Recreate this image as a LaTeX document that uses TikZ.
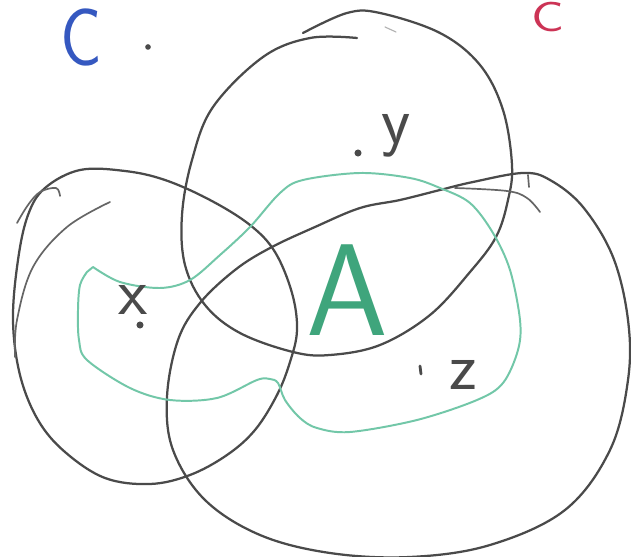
\documentclass[tikz,border=0pt]{standalone}
\usepackage{tikz}
\usetikzlibrary{positioning}
\definecolor{pencil}{HTML}{4A4A4A}
\definecolor{mint}{HTML}{72C7A8}
\definecolor{jade}{HTML}{3FA57C}
\definecolor{inkblue}{HTML}{3558C0}
\definecolor{inkred}{HTML}{CC3355}

\begin{document}
\begin{tikzpicture}[
  x=0.025cm, y=-0.025cm,
  setline/.style={draw=pencil, line width=1.6pt, line cap=round, line join=round},
  extra/.style={draw=pencil!85, line width=1.2pt, line cap=round},
  aline/.style={draw=mint, line width=1.4pt, line cap=round, line join=round},
  lab/.style={text=pencil, inner sep=0pt, font=\sffamily\fontsize{48}{48}\selectfont},
  elem/.style={circle, fill=pencil, inner sep=0pt, minimum size=5pt}
]
\clip (0,0) rectangle (631,557);
\fill[white] (0,0) rectangle (631,557);

% set X
\draw[setline] plot[smooth cycle, tension=0.6] coordinates {(80,170) (125,171) (165,180) (210,200) (250,225) (275,252) (292,293) (297,330) (290,362) (277,395) (255,430) (227,455) (190,475) (150,484) (105,478) (65,452) (38,420) (20,375) (13,320) (18,260) (28,215) (45,188)};
\draw[extra] plot[smooth, tension=0.6] coordinates {(17,223) (28,205) (40,192) (56,188) (60,196)};
\draw[extra] plot[smooth, tension=0.6] coordinates {(110,202) (67,227) (33,267) (17,320) (15,357)};

% set Y
\draw[setline] plot[smooth, tension=0.6] coordinates {(357,38) (310,38) (263,57) (213,107) (192,160) (182,215) (185,265) (205,305) (240,333) (293,352) (330,355) (380,345) (430,315) (470,272) (496,237) (508,200) (512,165) (503,110) (480,65) (440,33) (380,13) (347,13) (303,33)};
\draw[extra, draw=gray!60, line width=0.8pt] (385,27) -- (396,32);

% set Z
\draw[setline] plot[smooth cycle, tension=0.6] coordinates {(360,208) (400,200) (440,190) (473,182) (523,173) (550,180) (583,207) (613,257) (628,320) (628,380) (610,450) (565,510) (490,545) (410,557) (330,553) (260,535) (205,500) (173,450) (167,397) (178,340) (200,303) (235,270) (270,248) (315,227)};
\draw[extra] plot[smooth, tension=0.6] coordinates {(455,188) (507,191) (527,198) (540,212)};
\draw[extra] (528,175) -- (529,187);

% set A
\draw[aline] plot[smooth, tension=0.55] coordinates {(93,267) (120,282) (160,288) (190,280) (220,255) (250,227) (280,193) (303,180) (360,173) (410,178) (440,188) (470,203) (493,233) (510,270) (520,320) (518,350) (503,383) (477,400) (417,420) (350,432) (317,428) (300,418) (285,400) (278,383) (270,379) (257,380) (217,398) (170,400) (130,388) (87,360) (79,340) (78,310) (80,285) (87,272)} -- (93,267);

\node[elem] (dotx) at (140,325) {};
\node[elem] (doty) at (358,153) {};
\node[elem, minimum size=4pt] (dotc) at (148,47) {};
\draw[setline, line width=2pt] (420,366) -- (421,374);

\node[lab] (labx) at (133,300) {x};
\node[lab] (laby) at (396,136) {y};
\node[lab] (labz) at (463,375) {z};
\node[inner sep=0pt, text=jade, font=\sffamily\fontsize{93}{93}\selectfont] (labA) at (347,290) {A};
\node[inner sep=0pt, anchor=base west, text=inkblue, font=\sffamily\fontsize{58}{58}\selectfont] (labCb) at (60,66) {\scalebox{0.85}[1]{C}};
\node[inner sep=0pt, anchor=base west, text=inkred, font=\sffamily\fontsize{30}{30}\selectfont] (labCr) at (531,32) {\scalebox{1.3}[1]{C}};
\end{tikzpicture}
\end{document}
